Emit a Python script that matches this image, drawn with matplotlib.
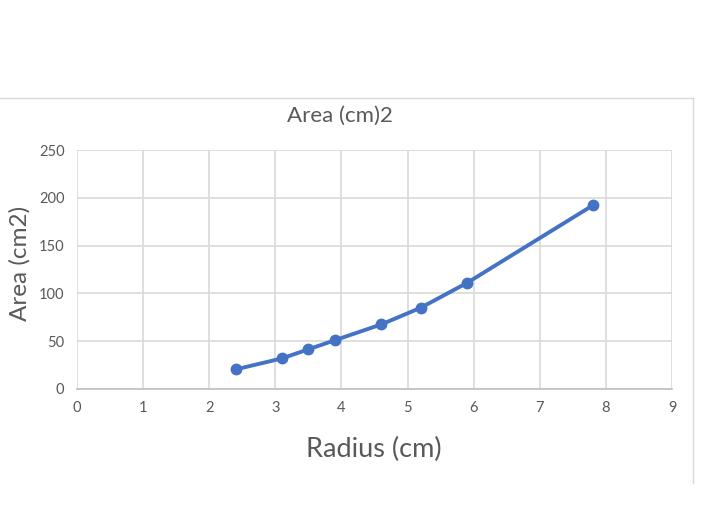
import matplotlib
matplotlib.use("Agg")
import matplotlib.pyplot as plt
from matplotlib.lines import Line2D

radius = [2.4, 3.1, 3.5, 3.9, 4.6, 5.2, 5.9, 7.8]
area = [20.5, 32, 41.5, 51, 67.5, 85, 111, 192]
x_ticks = [0, 1, 2, 3, 4, 5, 6, 7, 8, 9]
y_ticks = [0, 50, 100, 150, 200, 250]
title = "Area (cm)2"
xlabel = "Radius (cm)"
ylabel = "Area (cm2)"

plt.rcParams['font.family'] = ['Lato', 'DejaVu Sans']
txt = '#595959'
grid = '#d9d9d9'
blue = '#4472C4'

fig = plt.figure(figsize=(7.2, 5.13), dpi=100)
ax = fig.add_axes([77/720, 1-389/513, (672-77)/720, (389-150)/513])

ax.plot(radius, area, color=blue, lw=2.8, marker='o', ms=7.5, zorder=3, clip_on=False)

ax.set_xlim(0, 9)
ax.set_ylim(0, 250)
ax.set_xticks(x_ticks)
ax.set_yticks(y_ticks)
ax.grid(True, color=grid, lw=1.2)
ax.set_axisbelow(True)
for s in ['top', 'right', 'left']:
    ax.spines[s].set_visible(False)
ax.spines['bottom'].set_color('#bfbfbf')
ax.spines['bottom'].set_linewidth(1.2)
ax.tick_params(length=0, colors=txt, labelsize=10.5, pad=9)
ax.tick_params(axis='y', pad=9)

fig.text(340/720, 1-116/513, title, ha='center', va='center', fontsize=16, color=txt)
fig.text(374/720, 1-449/513, xlabel, ha='center', va='center', fontsize=19.5, color=txt)
fig.text(20/720, 1-263/513, ylabel, ha='center', va='center', rotation=90, fontsize=17.5, color=txt)

# chart frame
fig.add_artist(Line2D([0, 693/720], [1-98/513, 1-98/513], color='#d9d9d9', lw=1, transform=fig.transFigure))
fig.add_artist(Line2D([693/720, 693/720], [1-98/513, 1-483/513], color='#d9d9d9', lw=1, transform=fig.transFigure))

fig.savefig("out.png", dpi=100, facecolor='white')
